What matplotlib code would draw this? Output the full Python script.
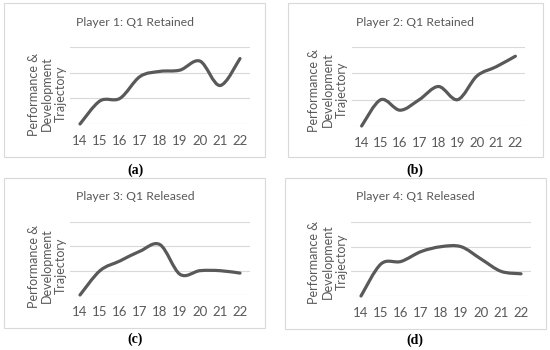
import numpy as np
import matplotlib.pyplot as plt
from matplotlib.path import Path
from matplotlib.patches import PathPatch, Rectangle

# ages on the x axis
ages = [14, 15, 16, 17, 18, 19, 20, 21, 22]

# trajectory values (gridlines at 0, 1, 2, 3)
player1 = [0.0, 0.9, 1.0, 1.85, 2.05, 2.1, 2.45, 1.5, 2.55]
player2 = [0.0, 1.0, 0.6, 1.0, 1.5, 1.0, 1.9, 2.25, 2.65]
player3 = [0.0, 1.0, 1.4, 1.8, 2.07, 0.85, 1.0, 1.0, 0.9]
player4 = [0.0, 1.3, 1.4, 1.8, 2.0, 2.0, 1.5, 1.0, 0.9]

titles = ["Player 1: Q1 Retained", "Player 2: Q1 Retained",
          "Player 3: Q1 Released", "Player 4: Q1 Released"]
captions = ["(a)", "(b)", "(c)", "(d)"]
ylabel = "Performance &\nDevelopment\nTrajectory"

W, H = 550, 350
GREY = "#595959"
GRID = "#d9d9d9"
FONT = ["Lato", "DejaVu Sans"]


def smooth_path(x, y):
    """Excel-style smoothed line: cubic Bezier with Catmull-Rom control points."""
    pts = np.column_stack([x, y]).astype(float)
    n = len(pts)
    verts = [pts[0]]
    codes = [Path.MOVETO]
    for i in range(n - 1):
        p0 = pts[i - 1] if i > 0 else pts[i]
        p1 = pts[i]
        p2 = pts[i + 1]
        p3 = pts[i + 2] if i + 2 < n else pts[i + 1]
        c1 = p1 + (p2 - p0) / 6.0
        c2 = p2 - (p3 - p1) / 6.0
        verts += [c1, c2, p2]
        codes += [Path.CURVE4] * 3
    return Path(verts, codes)


def px_axes(fig, x0, y0, x1, y1):
    # pixel box (top-left origin) -> figure axes
    return fig.add_axes([x0 / W, 1 - y1 / H, (x1 - x0) / W, (y1 - y0) / H])


fig = plt.figure(figsize=(W / 100, H / 100), dpi=100)

series = [player1, player2, player3, player4]
# panel layout in pixels: frame box, plot area, title pos, ylabel pos, caption pos
frames = [(4, 3, 265, 157), (288, 3, 543, 157), (4, 178, 265, 328), (285, 178, 546, 329)]
plots = [(70, 47, 250, 124), (352, 47, 525, 126), (70, 222, 250, 295), (351, 222, 531, 296)]
title_pos = [(135, 23), (415, 23), (135, 197), (415, 197)]
ylab_pos = [(47, 94), (328, 90), (47, 266), (328, 262)]
cap_pos = [(135, 170), (415, 170), (135, 339), (415, 340)]

for k in range(4):
    fx0, fy0, fx1, fy1 = frames[k]
    fig.patches.append(Rectangle((fx0 / W, 1 - fy1 / H), (fx1 - fx0) / W, (fy1 - fy0) / H,
                                 transform=fig.transFigure, fill=False,
                                 edgecolor=GRID, linewidth=0.8))

    ax = px_axes(fig, *plots[k])
    ax.set_xlim(13.5, 22.5)
    ax.set_ylim(0, 3)
    ax.set_yticks([0, 1, 2, 3])
    ax.yaxis.grid(True, color=GRID, linewidth=0.8)
    ax.set_axisbelow(True)
    ax.tick_params(axis="y", left=False, labelleft=False)
    ax.set_xticks(ages)
    ax.set_xticklabels([str(a) for a in ages], color=GREY, fontsize=9.5, family=FONT)
    ax.tick_params(axis="x", length=0, pad=8)
    for s in ax.spines.values():
        s.set_visible(False)
    ax.patch.set_alpha(0)

    patch = PathPatch(smooth_path(ages, series[k]), fill=False, edgecolor=GREY,
                      linewidth=2.3, capstyle="round", joinstyle="round", clip_on=False)
    ax.add_patch(patch)

    tx, ty = title_pos[k]
    fig.text(tx / W, 1 - ty / H, titles[k], ha="center", va="center",
             color=GREY, fontsize=8.8, family=FONT)
    lx, ly = ylab_pos[k]
    fig.text(lx / W, 1 - ly / H, ylabel, ha="center", va="center", rotation=90,
             multialignment="center", color=GREY, fontsize=9, family=FONT,
             linespacing=1.15)
    cx, cy = cap_pos[k]
    fig.text(cx / W, 1 - cy / H, captions[k], ha="center", va="center",
             color="black", fontsize=10, fontweight="bold", family="Liberation Serif")

fig.savefig("out.png", dpi=100)
